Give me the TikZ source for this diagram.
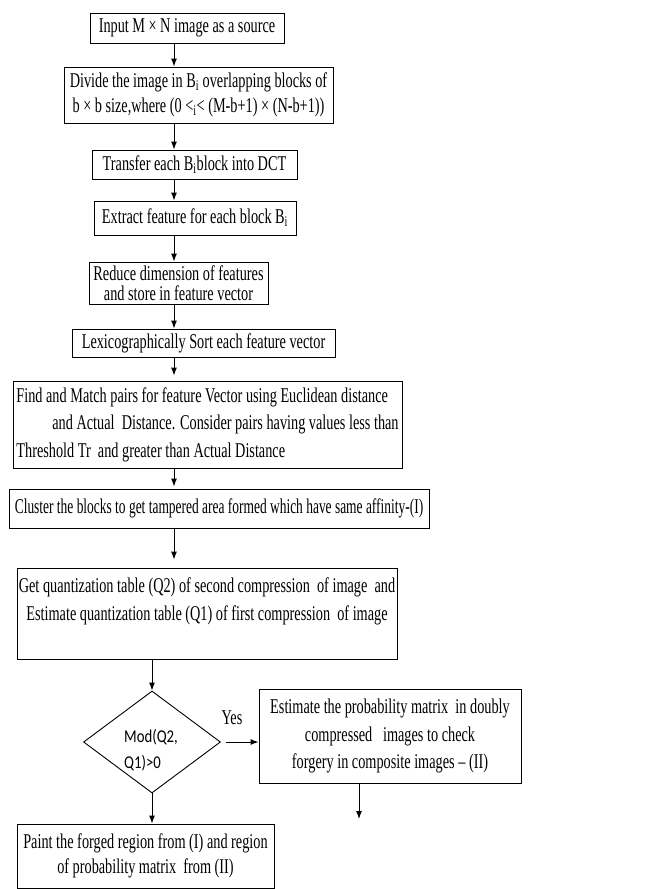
\documentclass[tikz,border=0pt]{standalone}
\usepackage{fontspec}
\setmainfont{Liberation Serif}[FakeStretch=0.68]
\newfontfamily\narrowfont{Liberation Serif}[FakeStretch=0.64]
\newfontfamily\diafont{Carlito}[FakeStretch=0.82]
\usetikzlibrary{shapes.geometric,arrows.meta,calc}
\begin{document}
\begin{tikzpicture}[x=1pt,y=-1pt,
  box/.style={draw, line width=0.9pt, inner sep=0pt, align=center, font=\fontsize{21}{25}\selectfont},
  arr/.style={-{Latex[length=8pt,width=6pt]}, line width=1pt},
  lbl/.style={inner sep=0pt, font=\fontsize{21}{25}\selectfont}]
\useasboundingbox (0,0) rectangle (646,889);
\coordinate (spine) at (174,0);

\node[box, minimum width=194pt, minimum height=30pt] (b1) at (187,28) {Input M\,×\,N image as a source};
\node[box, minimum width=269pt, minimum height=56pt] (b2) at (198.5,95) {Divide the image in B\textsubscript{i} overlapping blocks of\\ b × b size,where (0 <\textsubscript{i}< (M-b+1) × (N-b+1))};
\node[box, minimum width=205pt, minimum height=29pt] (b3) at (194.5,164.5) {Transfer each B\textsubscript{i}block into DCT};
\node[box, minimum width=202pt, minimum height=34pt] (b4) at (195,218) {Extract feature for each block B\textsubscript{i}};
\node[box, minimum width=179pt, minimum height=42pt, font=\fontsize{21}{20}\selectfont] (b5) at (178.5,283) {Reduce dimension of features\\and store in feature vector};
\node[box, minimum width=263pt, minimum height=28pt] (b6) at (203.5,343) {Lexicographically Sort each feature vector};
\node[box, minimum width=389pt, minimum height=87pt, align=left, font=\fontsize{21}{27.5}\selectfont] (b7) at (207.5,424.5) {Find and Match pairs for feature Vector using Euclidean distance\\ \hspace*{36pt}and Actual\ \ Distance. Consider pairs having values less than\\ Threshold Tr\ \ and greater than Actual Distance};
\node[box, minimum width=420pt, minimum height=39pt, font=\narrowfont\fontsize{21}{25}\selectfont] (b8) at (219,508.5) {Cluster the blocks to get tampered area formed which have same affinity-(I)};
\node[box, minimum width=380pt, minimum height=91pt, font=\fontsize{21}{28}\selectfont] (b9) at (207,613.5) {Get quantization table (Q2) of second compression\ \ of image\ \ and\\ Estimate quantization table (Q1) of first compression\ \ of image\\ \mbox{}};
\node[draw, diamond, line width=0.9pt, inner sep=0pt, aspect=1.34, minimum width=137pt, minimum height=102pt] (d) at (152,742) {};
\node[inner sep=0pt, align=left, font=\diafont\fontsize{18}{26}\selectfont] (dtxt) at (151,750) {Mod(Q2,\\Q1)>0};
\node[lbl] (yes) at (232,718) {Yes};
\node[box, minimum width=262pt, minimum height=94pt, font=\fontsize{21}{27.5}\selectfont] (b10) at (390,736) {Estimate the probability matrix\ \ in doubly\\ compressed\ \ \ images to check\\ forgery in composite images – (II)};
\node[box, minimum width=257pt, minimum height=64pt] (b11) at (145.5,856) {Paint the forged region\ from (I) and region\\ of probability matrix\ \ from (II)};
\coordinate (e10) at (359,819);

\draw[arr] (b1.south -| spine) -- (b2.north -| spine);
\draw[arr] (b2.south -| spine) -- (b3.north -| spine);
\draw[arr] (b3.south -| spine) -- (b4.north -| spine);
\draw[arr] (b4.south -| spine) -- (b5.north -| spine);
\draw[arr] (b5.south -| spine) -- (b6.north -| spine);
\draw[arr, shorten >=5pt] (b6.south -| spine) -- (b7.north -| spine);
\draw[arr, shorten >=2pt] (b7.south -| spine) -- (b8.north -| spine);
\draw[arr, shorten >=8pt] (b8.south -| spine) -- (b9.north -| spine);
\draw[arr] (d.north |- b9.south) -- (d.north);
\draw[arr, shorten <=5pt] (d.east) -- (b10.west |- d.east);
\draw[arr] (b10.south -| e10) -- (e10);
\draw[arr] (d.south) -- (b11.north -| d.south);
\end{tikzpicture}
\end{document}
